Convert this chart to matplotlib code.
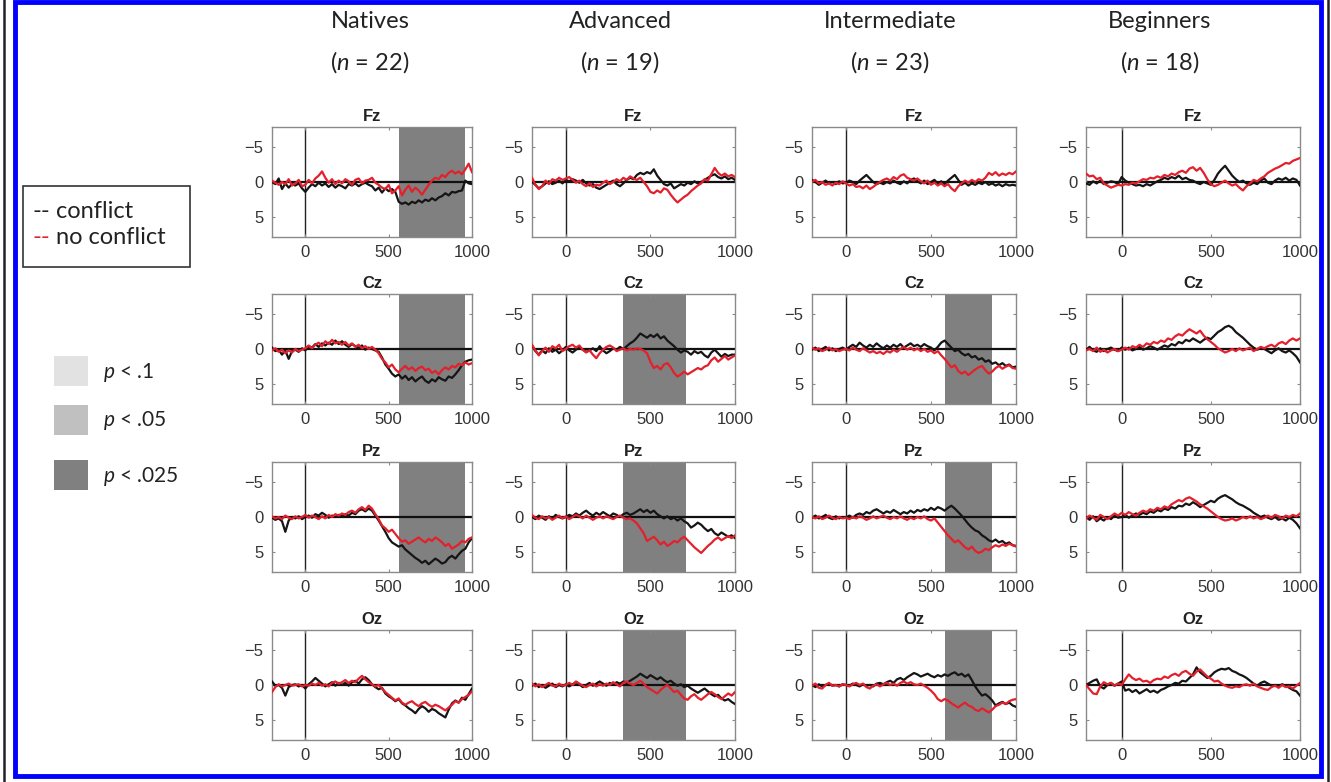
import numpy as np
import matplotlib.pyplot as plt
from matplotlib.patches import Rectangle
from matplotlib.lines import Line2D

plt.rcParams['font.family'] = ['Liberation Sans', 'DejaVu Sans']
plt.rcParams['mathtext.fontset'] = 'custom'
plt.rcParams['mathtext.it'] = 'Lato:italic'
plt.rcParams['mathtext.rm'] = 'Lato'

W, H = 1331, 782

# time base (ms), one sample every 20 ms
t = np.arange(-200, 1001, 20)

groups = ['Natives', 'Advanced', 'Intermediate', 'Beginners']
group_n = [22, 19, 23, 18]
channels = ['Fz', 'Cz', 'Pz', 'Oz']

# p < .025 windows (ms) per channel Fz, Cz, Pz, Oz
sig_natives = [(560, 960), (560, 960), (560, 960), None]
sig_advanced = [None, (340, 710), (340, 710), (340, 710)]
sig_intermediate = [None, (580, 860), (580, 860), (580, 860)]
sig_beginners = [None, None, None, None]

# ERP amplitudes (microvolts), conflict / no conflict
natives_fz_c = [0.0, 0.3, -0.5, 1.0, 0.2, 0.8, 0.3, 0.5, 0.2, 0.9, 1.4,
                0.8, 0.3, 0.6, 0.1, 0.5, 0.2, 0.7, 0.3, 0.8, 0.4,
                0.6, 0.9, 0.3, 0.5, 0.2, 0.6, 0.3, 0.1, 0.4, 0.6,
                1.2, 0.8, 1.5, 0.9, 1.3, 1.0, 1.4, 2.8, 3.1, 2.9,
                3.2, 2.8, 3.0, 2.6, 2.9, 2.5, 2.7, 2.3, 2.6, 2.2,
                2.0, 1.6, 1.9, 1.4, 1.5, 1.3, 1.2, -0.2, 0.2, 0.3]
natives_fz_nc = [-0.2, 0.1, 0.4, 0.0, 0.3, -0.4, 0.5, 0.2, -0.3, 0.6, 0.4,
                 -0.3, 0.2, -0.5, -0.9, -1.5, -0.6, 0.1, -0.4, 0.3, -0.2,
                 0.2, -0.4, -0.1, 0.4, -0.3, -0.5, 0.2, -0.2, -0.3, -0.6,
                 0.1, 0.4, 0.8, 1.0, 0.4, 1.6, 1.2, 0.6, 1.9, 1.1,
                 0.5, 1.4, 0.8, 1.2, 1.8, 1.1, 0.4, -0.2, -0.6, -0.4,
                 -1.0, -0.7, -1.3, -1.6, -1.2, -1.5, -1.1, -1.8, -2.6, -1.4]
advanced_fz_c = [0.0, 0.4, 0.9, 0.6, 0.2, -0.1, 0.3, 0.1, -0.2, 0.2, -0.3,
                 -0.1, -0.4, -0.2, 0.1, -0.3, 0.2, 0.5, 0.3, 0.8, 1.0,
                 0.7, 0.4, 0.1, -0.2, 0.3, 0.6, 0.2, -0.3, -0.6, -0.4,
                 -1.0, -1.3, -1.1, -1.4, -1.2, -1.8, -0.9, -0.3, 0.3, 0.5,
                 0.2, 0.9, 0.6, 0.3, 0.5, 0.1, 0.3, -0.1, 0.2, 0.0,
                 -0.3, -0.6, -0.9, -1.1, -0.7, -0.5, -0.8, -0.4, -0.6, -0.3]
advanced_fz_nc = [-0.6, 0.4, 1.0, 0.6, -0.2, 0.3, -0.4, -0.2, -0.6, -0.3, -0.5,
                  -0.7, -0.3, 0.1, -0.2, 0.3, 0.6, 0.2, 0.7, 0.4, 0.5,
                  0.1, -0.2, 0.3, 0.0, -0.4, -0.1, -0.6, -0.3, -0.8, -0.5,
                  -0.3, -0.6, 0.0, 0.6, 1.4, 1.6, 1.2, 1.5, 0.9, 1.1,
                  1.8, 2.4, 2.9, 2.5, 2.1, 1.8, 1.3, 0.9, 0.5, 0.2,
                  -0.4, -0.2, -1.1, -2.0, -1.3, -0.9, -1.2, -0.8, -1.0, -0.7]
intermediate_fz_c = [-0.3, 0.0, 0.4, 0.1, -0.2, 0.2, 0.0, 0.3, -0.1, 0.2, 0.1,
                     -0.2, 0.0, 0.3, -0.2, -0.6, -1.0, -0.5, 0.0, 0.3, 0.1,
                     0.3, 0.0, 0.2, -0.2, 0.1, 0.3, -0.1, 0.2, -0.3, -0.5,
                     -0.1, 0.2, -0.2, 0.3, 0.0, -0.3, 0.2, -0.1, 0.3, -0.2,
                     -0.6, -1.0, -0.3, 0.4, 0.1, 0.5, 0.2, 0.4, 0.1, 0.3,
                     0.0, 0.4, 0.2, 0.5, 0.3, 0.6, 0.3, 0.5, 0.4, 0.5]
intermediate_fz_nc = [0.0, -0.3, 0.2, 0.0, 0.4, 0.2, 0.5, 0.1, 0.3, -0.1, 0.2,
                      0.5, 0.3, 0.7, 0.6, 0.9, 0.5, 1.0, 0.7, 0.3, 0.0,
                      -0.3, -0.5, -0.2, -0.7, -0.4, -0.9, -1.1, -0.6, -0.4, -0.2,
                      -0.5, -0.1, 0.2, -0.2, 0.4, 0.1, 0.5, 0.2, 0.6, 0.3,
                      0.9, 1.3, 0.6, 0.2, -0.2, 0.1, -0.3, 0.0, -0.4, -0.2,
                      -0.6, -1.3, -1.0, -1.4, -0.9, -1.2, -1.0, -1.3, -1.1, -1.5]
beginners_fz_c = [0.2, 0.4, -0.1, 0.2, -0.2, 0.3, 0.1, -0.1, 0.0, 0.3, -0.7,
                  -0.2, 0.1, 0.3, 0.5, 0.4, 0.6, 0.3, 0.5, 0.2, -0.1,
                  -0.3, -0.6, -0.4, -0.7, -0.5, -0.9, -0.4, -0.6, -0.3, -0.2,
                  0.1, 0.3, 0.0, 0.2, 0.4, -0.3, -1.2, -1.8, -2.3, -1.6,
                  -0.9, -0.4, 0.0, -0.2, 0.2, 0.4, 0.1, 0.3, -0.2, -0.5,
                  0.1, 0.3, -0.2, -0.5, -0.3, -0.6, -0.2, -0.5, -0.3, 0.5]
beginners_fz_nc = [-1.2, -0.8, -0.9, -0.4, -0.6, 0.2, 0.5, 0.8, 0.6, 0.4, 0.5,
                   0.3, 0.4, 0.1, 0.2, -0.1, -0.4, -0.3, -0.6, -0.5, -0.8,
                   -0.6, -1.0, -0.8, -1.2, -1.0, -1.4, -1.6, -1.3, -1.9, -2.1,
                   -1.6, -2.0, -1.3, -0.4, 0.3, 0.6, 0.4, 0.1, -0.2, 0.2,
                   0.5, 0.3, 0.8, 1.2, 0.6, 0.2, -0.3, -0.1, -0.5, -0.8,
                   -1.3, -1.6, -1.9, -2.1, -2.4, -2.7, -2.6, -3.0, -3.2, -3.4]

natives_cz_c = [-0.2, 0.3, 0.1, 0.8, 0.2, 1.4, 0.3, 0.1, 0.4, -0.1, 0.2,
                -0.4, -0.2, -0.7, -0.3, -0.8, -0.5, -0.9, -0.6, -1.2, -0.7,
                -1.1, -0.6, -0.3, -0.7, -0.4, -0.2, -0.5, 0.1, -0.2, 0.0,
                0.2, 0.4, 1.2, 2.2, 2.8, 3.5, 3.9, 3.6, 4.2, 3.8,
                4.4, 4.0, 4.6, 4.2, 3.9, 4.5, 4.8, 4.3, 4.6, 4.0,
                4.3, 4.5, 3.9, 4.1, 3.6, 3.0, 2.3, 1.8, 1.6, 1.5]
natives_cz_nc = [0.2, -0.1, 0.4, 0.1, 0.6, 0.2, 0.5, 0.0, 0.3, 0.1, -0.1,
                 -0.5, -0.1, -0.6, -0.9, -0.4, -1.1, -0.7, -1.3, -0.8, -1.0,
                 -0.6, -1.0, -0.5, -0.8, -0.3, -0.6, -0.1, -0.4, 0.0, -0.3,
                 0.1, 0.6, 1.4, 1.9, 2.6, 2.2, 2.9, 3.3, 2.8, 2.4,
                 2.9, 2.6, 3.1, 2.7, 2.5, 3.0, 2.8, 3.4, 3.1, 3.6,
                 3.0, 2.6, 2.9, 2.4, 2.6, 2.1, 2.3, 1.9, 2.2, 2.0]
advanced_cz_c = [-0.5, 0.3, 0.8, 0.2, 0.6, -0.1, 0.4, 0.1, 0.6, 0.2, -0.3,
                 0.2, 0.5, 0.1, -0.2, 0.1, 0.4, 0.2, -0.1, 0.3, -0.4,
                 0.2, 0.6, 0.3, -0.1, 0.1, -0.3, 0.0, -0.4, -0.8, -1.1,
                 -1.6, -2.2, -1.9, -1.6, -2.0, -1.7, -2.1, -1.5, -1.8, -1.2,
                 -0.8, -0.4, 0.1, 0.5, 0.2, 0.4, 0.8, 0.3, 0.6, 0.4,
                 0.9, 1.2, 0.5, 0.1, 0.6, 1.1, 0.7, 1.0, 0.8, 0.8]
advanced_cz_nc = [-0.6, 0.2, 0.9, 0.3, -0.2, 0.4, -0.4, -0.1, -0.6, 0.3, 0.0,
                  -0.4, -0.6, -0.2, -0.5, 0.1, 0.5, 0.2, 0.8, 1.3, 0.6,
                  0.1, -0.3, -0.5, -0.2, 0.3, 0.1, -0.1, 0.2, 0.0, 0.1,
                  -0.1, 0.0, 0.2, 0.6, 1.8, 2.7, 2.4, 2.9, 2.2, 2.0,
                  2.6, 3.4, 3.9, 3.6, 3.2, 3.6, 3.3, 3.0, 2.7, 2.9,
                  2.5, 2.3, 1.6, 1.2, 1.8, 1.4, 1.0, 1.5, 1.2, 0.9]
intermediate_cz_c = [0.1, -0.2, 0.3, 0.0, -0.3, 0.2, -0.1, 0.3, 0.0, -0.2, 0.1,
                     -0.3, -0.6, -0.3, -0.9, -0.5, -0.2, -0.6, -0.3, -0.8, -0.4,
                     -0.1, -0.5, -0.2, -0.6, -0.3, -0.7, -0.2, -0.5, -0.8, -0.4,
                     -0.6, -0.3, -0.7, -0.4, -0.2, 0.2, -0.3, -0.9, -1.2, -0.7,
                     -0.2, 0.3, 0.1, 0.6, 0.9, 0.7, 1.2, 1.0, 1.5, 1.3,
                     1.8, 1.6, 2.1, 1.9, 2.3, 2.0, 2.4, 2.2, 2.6, 2.5]
intermediate_cz_nc = [-0.2, 0.1, -0.1, 0.3, 0.1, -0.2, 0.2, 0.0, 0.3, 0.1, 0.0,
                      0.2, -0.2, 0.1, 0.3, -0.1, 0.2, 0.5, 0.3, 0.6, 0.4,
                      0.7, 0.3, 0.5, 0.1, 0.4, 0.0, -0.3, 0.1, -0.2, 0.2,
                      -0.1, 0.3, 0.0, 0.4, 0.2, 0.6, 0.3, 0.9, 1.4, 2.0,
                      2.6, 2.3, 3.1, 3.5, 3.2, 3.7, 3.3, 2.9, 2.6, 2.4,
                      3.0, 3.5, 3.2, 2.7, 2.4, 2.8, 2.5, 2.3, 2.7, 2.8]
beginners_cz_c = [0.1, -0.3, 0.2, 0.4, -0.1, 0.3, 0.0, -0.2, 0.1, 0.3, -0.2,
                  0.1, -0.2, 0.2, 0.0, -0.3, 0.1, -0.1, -0.4, -0.2, 0.1,
                  -0.2, -0.5, -0.3, -0.7, -0.5, -1.0, -0.8, -1.3, -1.1, -1.5,
                  -1.2, -0.9, -1.3, -1.6, -1.4, -1.9, -2.4, -2.7, -3.1, -3.3,
                  -3.0, -2.4, -2.0, -1.6, -1.1, -0.6, -0.2, 0.1, -0.2, 0.0,
                  0.3, 0.6, 0.2, -0.1, 0.3, 0.5, 0.2, 0.6, 1.1, 1.9]
beginners_cz_nc = [0.2, 0.0, 0.3, -0.2, 0.4, 0.1, 0.5, 0.2, 0.0, 0.3, 0.1,
                   -0.2, 0.1, -0.4, -0.2, -0.6, -0.3, -0.8, -0.6, -1.0, -0.8,
                   -1.2, -1.0, -1.5, -1.3, -1.8, -2.1, -1.9, -2.4, -2.8, -2.5,
                   -2.2, -2.6, -1.9, -1.4, -1.0, -0.6, -0.1, 0.2, 0.5, 0.3,
                   0.0, 0.3, -0.1, 0.2, 0.0, -0.2, 0.3, 0.0, -0.3, -0.1,
                   -0.4, -0.6, -0.3, -0.8, -1.0, -0.7, -1.2, -1.5, -1.2, -1.5]

natives_pz_c = [0.1, 0.4, 0.2, 0.6, 2.1, 0.5, 0.0, 0.2, -0.1, 0.3, 0.0,
                -0.2, 0.1, -0.4, -0.2, -0.6, -0.3, 0.1, -0.2, 0.0, -0.3,
                -0.1, -0.4, -0.2, -0.6, -0.4, -0.9, -1.1, -0.8, -1.2, -0.9,
                -0.2, 0.5, 1.3, 2.1, 3.0, 3.6, 3.9, 4.2, 4.0, 4.6,
                5.0, 5.4, 5.8, 6.1, 6.5, 6.2, 6.7, 6.3, 5.9, 6.2,
                6.6, 6.4, 5.8, 5.5, 5.9, 5.3, 4.8, 4.5, 3.6, 3.0]
natives_pz_nc = [-0.1, 0.2, 0.0, 0.3, -0.2, 0.1, 0.3, -0.1, 0.2, 0.0, -0.3,
                 0.1, -0.2, 0.0, 0.3, -0.1, 0.2, -0.3, 0.0, -0.4, -0.2,
                 -0.5, -0.3, -0.7, -0.9, -0.6, -1.1, -1.4, -1.0, -1.6, -1.2,
                 -0.4, 0.3, 1.2, 1.6, 2.1, 1.8, 2.4, 3.0, 3.5, 3.3,
                 3.8, 3.5, 3.2, 2.9, 3.3, 3.6, 3.1, 3.4, 2.9, 3.2,
                 3.6, 4.1, 3.8, 4.5, 4.2, 3.9, 3.4, 3.6, 3.1, 2.9]
advanced_pz_c = [0.0, 0.3, -0.2, 0.1, 0.4, -0.1, 0.2, -0.3, 0.0, 0.2, 0.0,
                 -0.3, -0.1, -0.5, -0.2, -0.6, -0.9, -0.5, -0.2, -0.6, -0.3,
                 -0.7, -0.4, -0.1, -0.5, -0.3, 0.0, -0.4, -0.6, -0.3, -0.5,
                 -0.8, -1.1, -0.7, -1.0, -0.6, -0.9, -0.4, -0.1, 0.2, -0.1,
                 0.3, 0.1, 0.5, 0.2, 0.6, 0.9, 1.5, 1.2, 0.8, 1.1,
                 1.6, 2.0, 1.7, 2.3, 2.6, 2.2, 2.5, 2.8, 2.6, 3.0]
advanced_pz_nc = [-0.3, 0.1, 0.3, -0.1, 0.2, 0.0, 0.4, 0.1, -0.2, 0.2, -0.1,
                  0.3, 0.0, -0.3, -0.1, 0.2, -0.2, 0.1, 0.4, 0.1, -0.1,
                  0.2, -0.1, 0.1, 0.3, 0.0, -0.2, 0.1, 0.3, 0.2, 0.5,
                  0.9, 1.6, 2.3, 3.4, 3.1, 2.8, 3.3, 3.9, 3.5, 4.1,
                  3.8, 3.4, 3.6, 3.1, 2.8, 3.3, 3.8, 4.3, 4.7, 5.1,
                  4.6, 4.1, 3.7, 3.2, 2.9, 3.3, 3.0, 2.7, 3.0, 2.6]
intermediate_pz_c = [0.1, -0.2, 0.2, 0.0, -0.3, 0.1, 0.3, -0.1, 0.2, 0.0, 0.1,
                     -0.2, 0.1, -0.3, -0.5, -0.3, -0.7, -0.5, -0.9, -1.1, -0.8,
                     -0.5, -0.8, -0.6, -1.0, -0.7, -0.4, -0.7, -0.5, -0.9, -0.6,
                     -1.0, -0.8, -1.1, -0.9, -1.3, -1.0, -1.4, -1.2, -0.9, -1.3,
                     -1.6, -1.2, -0.7, -0.2, 0.4, 1.0, 1.5, 1.9, 2.1, 2.6,
                     2.9, 3.3, 3.5, 3.2, 3.6, 3.4, 3.8, 3.6, 4.0, 4.1]
intermediate_pz_nc = [0.0, 0.2, -0.1, 0.3, 0.1, -0.2, 0.1, 0.3, 0.0, 0.2, 0.1,
                      0.3, 0.0, 0.2, -0.1, 0.1, 0.4, 0.2, -0.1, 0.2, 0.0,
                      -0.2, 0.1, 0.3, 0.0, 0.2, -0.1, 0.2, 0.4, 0.1, 0.3,
                      0.0, 0.2, -0.1, 0.3, 0.5, 0.2, 0.8, 1.4, 2.0, 2.6,
                      3.1, 3.6, 3.3, 3.8, 4.3, 4.6, 4.2, 4.8, 5.1, 4.9,
                      4.5, 4.7, 4.3, 4.0, 4.2, 3.9, 4.1, 3.8, 4.0, 4.2]
beginners_pz_c = [0.0, 0.4, -0.1, 0.6, 0.2, 0.5, 0.0, 0.3, -0.2, 0.1, 0.0,
                  -0.3, 0.1, -0.2, -0.5, -0.3, -0.6, -0.4, -0.8, -0.6, -1.0,
                  -0.8, -1.2, -1.0, -1.4, -1.2, -1.6, -1.5, -1.9, -1.7, -2.1,
                  -1.8, -1.4, -1.7, -2.0, -2.3, -2.1, -2.6, -2.9, -3.1, -2.8,
                  -2.5, -2.1, -1.8, -1.6, -1.3, -1.0, -0.6, -0.3, 0.0, -0.2,
                  0.1, 0.3, 0.0, 0.4, 0.2, 0.5, 0.1, 0.4, 0.9, 1.6]
beginners_pz_nc = [0.2, -0.2, 0.1, 0.4, -0.3, 0.0, 0.3, -0.1, -0.5, -0.2, -0.6,
                   -0.3, -0.7, -0.4, -0.2, -0.6, -0.9, -0.7, -1.1, -0.9, -1.3,
                   -1.1, -1.5, -1.3, -1.8, -2.1, -2.4, -2.2, -2.6, -2.8, -2.5,
                   -2.2, -1.8, -1.5, -1.2, -0.8, -0.4, 0.0, 0.3, 0.5, 0.4,
                   0.2, 0.5, 0.3, 0.0, 0.2, -0.1, 0.2, 0.0, 0.3, 0.1,
                   -0.2, 0.1, -0.3, -0.1, 0.2, -0.2, 0.0, -0.3, -0.1, -0.5]

natives_oz_c = [-0.5, 0.1, 0.0, 0.4, 1.5, 0.3, 0.0, -0.1, 0.2, 0.0, 0.5,
                -0.1, -0.5, -1.0, -0.6, -0.2, 0.2, -0.1, -0.4, 0.1, -0.3,
                0.0, -0.3, 0.1, -0.4, -0.6, -0.2, -0.8, -1.1, -0.7, -0.1,
                0.3, 0.6, 0.4, 1.2, 1.6, 1.9, 2.3, 2.0, 2.6, 2.9,
                3.3, 3.6, 4.0, 3.4, 3.0, 3.3, 3.8, 3.4, 3.6, 4.0,
                4.3, 4.6, 3.5, 2.6, 2.2, 2.5, 1.8, 2.1, 1.3, 0.5]
natives_oz_nc = [1.0, 0.3, -0.1, 0.2, 0.0, -0.2, 0.1, 0.0, -0.1, 0.2, 0.0,
                 0.1, -0.2, 0.0, -0.3, 0.1, -0.1, 0.2, -0.3, -0.5, -0.2,
                 -0.4, -0.7, -0.3, -0.6, -0.4, -0.9, -1.3, -0.8, -0.4, -0.1,
                 0.2, 0.0, 0.5, 1.0, 1.4, 1.8, 2.2, 1.9, 2.5, 2.8,
                 2.5, 2.3, 2.7, 3.0, 2.6, 2.4, 2.8, 3.1, 2.8, 3.0,
                 3.3, 3.6, 3.2, 2.8, 2.3, 2.5, 2.0, 1.7, 1.4, 0.9]
advanced_oz_c = [0.1, -0.2, 0.3, 0.0, 0.4, 0.1, -0.2, 0.3, 0.0, 0.2, -0.1,
                 0.2, -0.1, -0.4, -0.1, 0.3, 0.0, -0.3, 0.1, -0.2, -0.5,
                 -0.2, 0.1, -0.3, 0.0, -0.4, -0.2, -0.5, -0.3, -0.6, -0.9,
                 -1.2, -1.6, -1.3, -1.0, -1.4, -1.1, -0.8, -1.1, -0.7, -0.4,
                 -0.6, -0.2, 0.1, -0.1, 0.3, 0.1, 0.5, 0.8, 1.1, 0.8,
                 0.5, 0.9, 1.3, 1.6, 1.4, 1.9, 2.2, 2.0, 2.4, 2.7]
advanced_oz_nc = [-0.2, 0.2, -0.1, 0.3, 0.0, -0.3, 0.1, 0.2, -0.2, 0.1, 0.0,
                  -0.3, 0.0, -0.5, -0.2, 0.1, 0.3, 0.0, -0.2, 0.2, -0.1,
                  0.1, -0.2, 0.0, -0.4, -0.1, 0.2, -0.3, -0.5, -0.2, 0.0,
                  -0.3, -0.6, -0.2, 0.3, 0.6, 0.9, 1.2, 0.7, 0.3, 0.0,
                  0.5, 1.0, 0.8, 1.4, 1.9, 2.1, 1.6, 1.3, 1.8, 2.1,
                  1.7, 1.3, 1.0, 1.3, 1.7, 2.0, 1.6, 1.2, 1.5, 1.0]
intermediate_oz_c = [0.0, 0.3, -0.1, 0.2, 0.0, -0.2, 0.1, 0.0, 0.2, -0.1, 0.0,
                     0.1, -0.2, 0.0, 0.2, -0.1, 0.1, 0.0, 0.2, -0.2, -0.3,
                     -0.1, -0.4, -0.6, -0.3, -0.8, -1.0, -0.7, -1.1, -1.4, -1.7,
                     -1.5, -1.2, -1.4, -1.6, -1.3, -1.1, -1.4, -1.2, -1.5, -1.3,
                     -1.6, -1.8, -1.4, -1.6, -1.2, -1.5, -0.7, 0.2, 0.9, 1.5,
                     1.3, 1.7, 2.2, 2.9, 2.6, 2.4, 2.7, 2.5, 2.9, 3.1]
intermediate_oz_nc = [0.1, -0.2, 0.4, 0.5, 0.0, -0.3, 0.1, 0.0, 0.2, -0.1, 0.0,
                      0.2, -0.1, -0.3, 0.0, -0.2, 0.3, 0.5, 0.1, -0.1, 0.2,
                      -0.1, -0.3, 0.0, -0.2, 0.1, -0.3, -0.5, -0.2, -0.4, -0.1,
                      0.0, -0.2, 0.1, 0.4, 0.8, 1.3, 2.0, 2.3, 2.0, 2.2,
                      2.6, 2.9, 3.2, 2.8, 2.5, 2.9, 3.1, 3.5, 3.7, 3.3,
                      3.6, 3.9, 3.5, 3.0, 2.8, 2.5, 2.7, 2.3, 2.1, 2.0]
beginners_oz_c = [0.0, -0.3, -0.6, -0.8, 0.2, 0.5, 0.0, -0.3, 0.1, -0.2, -0.5,
                  0.8, 0.6, 1.0, 0.7, 1.2, 0.9, 0.6, 1.0, 0.8, 1.1,
                  0.7, 0.5, 0.2, 0.0, -0.3, -0.2, -0.6, -0.5, -1.0, -1.5,
                  -2.5, -1.8, -1.4, -1.0, -1.3, -1.8, -2.1, -2.3, -2.2, -2.4,
                  -2.0, -1.8, -1.5, -1.3, -1.0, -0.6, -0.2, 0.1, -0.3, -0.5,
                  -0.2, 0.1, 0.0, 0.2, -0.1, 0.1, 0.4, 0.7, 0.9, 1.5]
beginners_oz_nc = [0.0, 0.6, 1.2, 1.3, 0.2, -0.4, -0.1, -0.3, 0.1, -0.2, 0.0,
                   -0.8, -1.5, -1.0, -0.7, -0.9, -0.5, -0.6, -0.3, -0.7, -0.9,
                   -0.8, -1.2, -1.0, -1.4, -1.6, -1.3, -1.8, -2.0, -1.6, -1.3,
                   -1.9, -2.2, -1.7, -1.2, -0.9, -0.5, -0.6, -0.2, 0.1, 0.3,
                   0.4, 0.2, 0.3, 0.0, -0.1, 0.1, -0.2, 0.2, 0.4, 0.6,
                   0.7, 0.3, 0.1, 0.4, 0.0, 0.3, 0.2, 0.5, 0.1, -0.3]

conflict = [
    [natives_fz_c, natives_cz_c, natives_pz_c, natives_oz_c],
    [advanced_fz_c, advanced_cz_c, advanced_pz_c, advanced_oz_c],
    [intermediate_fz_c, intermediate_cz_c, intermediate_pz_c, intermediate_oz_c],
    [beginners_fz_c, beginners_cz_c, beginners_pz_c, beginners_oz_c],
]
no_conflict = [
    [natives_fz_nc, natives_cz_nc, natives_pz_nc, natives_oz_nc],
    [advanced_fz_nc, advanced_cz_nc, advanced_pz_nc, advanced_oz_nc],
    [intermediate_fz_nc, intermediate_cz_nc, intermediate_pz_nc, intermediate_oz_nc],
    [beginners_fz_nc, beginners_cz_nc, beginners_pz_nc, beginners_oz_nc],
]
sig = [sig_natives, sig_advanced, sig_intermediate, sig_beginners]


def fx(x):
    return x / W


def fy(y):
    return 1 - y / H


fig = plt.figure(figsize=(W / 100, H / 100), dpi=100)

# layout in pixels
col_left = [272, 532, 812, 1086]
col_width = [200, 203, 204, 214]
row_top = [127, 294, 462, 630]
row_h = 110
title_x = [370, 620, 890, 1160]

red = '#e3202b'
spine = '#8a8a8a'

for g in range(4):
    fig.text(fx(title_x[g]), fy(22), groups[g], ha='center', va='center',
             fontsize=17, family='Lato', color='#222222')
    fig.text(fx(title_x[g]), fy(62), '($\\it{n}$ = %d)' % group_n[g], ha='center',
             va='center', fontsize=17, family='Lato', color='#222222')
    for r in range(4):
        ax = fig.add_axes([fx(col_left[g]), fy(row_top[r] + row_h),
                           col_width[g] / W, row_h / H])
        win = sig[g][r]
        if win is not None:
            ax.axvspan(win[0], win[1], color='#808080', lw=0, zorder=0)
        ax.axvline(0, color='#222222', lw=1.0, zorder=1)
        ax.axhline(0, color='#111111', lw=1.6, zorder=2)
        ax.plot(t, conflict[g][r], color='#151515', lw=1.6, zorder=3)
        ax.plot(t, no_conflict[g][r], color=red, lw=1.6, zorder=3)
        ax.set_xlim(-200, 1000)
        ax.set_ylim(7.8, -7.8)
        ax.set_xticks([0, 500, 1000])
        ax.set_yticks([-5, 0, 5])
        ax.tick_params(direction='in', length=2.5, width=0.8, color=spine,
                       top=True, right=True, labelsize=12, labelcolor='#333333',
                       pad=6)
        for s in ax.spines.values():
            s.set_color(spine)
            s.set_linewidth(1.0)
        ax.set_title(channels[r], fontsize=12, fontweight='bold', pad=4,
                     color='#222222')

# line legend
fig.add_artist(Rectangle((fx(23), fy(267)), 167 / W, 81 / H, transform=fig.transFigure,
                         facecolor='white', edgecolor='#333333', lw=1.2))
fig.text(fx(33), fy(212), '--', color='#222222', fontsize=17, family='Lato',
         va='center')
fig.text(fx(56), fy(212), 'conflict', color='#222222', fontsize=17, family='Lato',
         va='center')
fig.text(fx(33), fy(238), '--', color=red, fontsize=17, family='Lato', va='center')
fig.text(fx(56), fy(238), 'no conflict', color='#222222', fontsize=17, family='Lato',
         va='center')

# significance legend
p_labels = ['$\\it{p}$ < .1', '$\\it{p}$ < .05', '$\\it{p}$ < .025']
p_colors = ['#e2e2e2', '#c0c0c0', '#808080']
p_tops = [356, 405, 460]
for lab, c, y0 in zip(p_labels, p_colors, p_tops):
    fig.add_artist(Rectangle((fx(54), fy(y0 + 30)), 34 / W, 30 / H,
                             transform=fig.transFigure, facecolor=c, lw=0))
    fig.text(fx(103), fy(y0 + 16), lab, fontsize=15, family='Lato',
             color='#222222', va='center')

# frame
fig.add_artist(Line2D([fx(3.5), fx(3.5)], [0, 1], transform=fig.transFigure,
                      color='#222222', lw=1.8))
fig.add_artist(Line2D([fx(1327.5), fx(1327.5)], [0, 1], transform=fig.transFigure,
                      color='#222222', lw=1.8))
fig.add_artist(Rectangle((fx(15), fy(776)), (1321 - 15) / W, (776 - 2) / H,
                         transform=fig.transFigure, facecolor='none',
                         edgecolor='#0000ff', lw=3.5))

fig.savefig('out.png', dpi=100)
